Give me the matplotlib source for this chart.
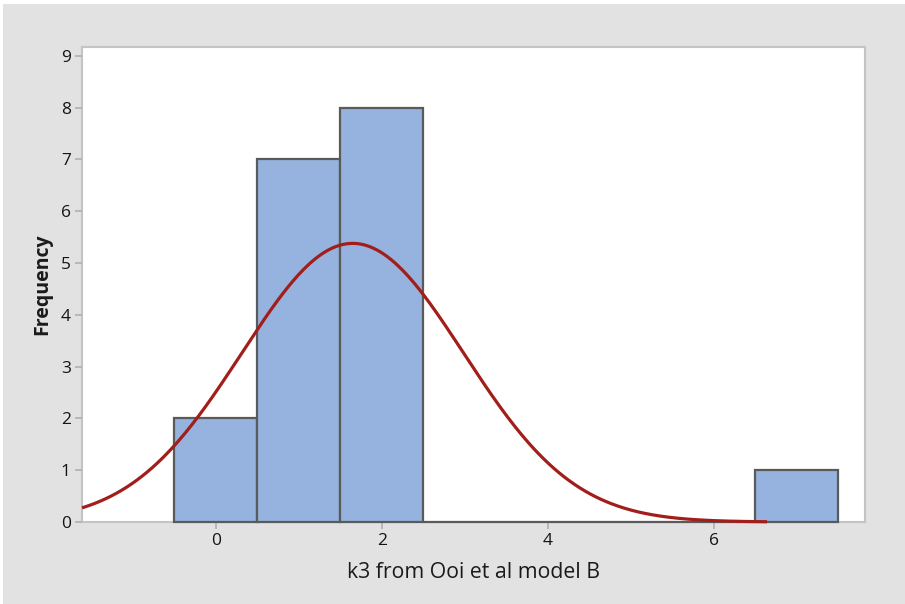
import numpy as np
import matplotlib
matplotlib.use("Agg")
import matplotlib.pyplot as plt
from matplotlib.patches import Rectangle

# histogram data (bin centres, bin width 1)
bin_centers = [0, 1, 2, 3, 4, 5, 6, 7]
counts = [2, 7, 8, 0, 0, 0, 0, 1]
bin_width = 1.0

# normal fit parameters
n_obs = 18
fit_mean = 1.65
fit_sd = 1.335
curve_start = -1.61
curve_end = 6.64

x_ticks = [0, 2, 4, 6]
y_ticks = [0, 1, 2, 3, 4, 5, 6, 7, 8, 9]

plt.rcParams['font.family'] = ['Open Sans', 'DejaVu Sans']

fig = plt.figure(figsize=(9.05, 6.04), dpi=100)
fig.patch.set_facecolor('white')
# gray frame behind the chart
fig.patches.append(Rectangle((3/905, 0), 1, 1 - 4/604, transform=fig.transFigure,
                             facecolor='#e2e2e2', edgecolor='none', zorder=-10))

ax = fig.add_axes([82/905, 1 - 522/604, (865-82)/905, (522-47)/604])
ax.set_facecolor('white')

ax.bar(bin_centers, counts, width=bin_width, color='#95b3de', edgecolor='#5a5a5a',
       linewidth=1.6, zorder=3, clip_on=False)

xs = np.linspace(curve_start, curve_end, 400)
ys = n_obs * bin_width / (fit_sd * np.sqrt(2*np.pi)) * np.exp(-(xs - fit_mean)**2 / (2*fit_sd**2))
ax.plot(xs, ys, color='#a11e1b', linewidth=2.3, zorder=4, solid_capstyle='butt', clip_on=False)

ax.set_xlim(-1.61, 7.82)
ax.set_ylim(0, 9.17)
ax.set_xticks(x_ticks)
ax.set_yticks(y_ticks)

for s in ax.spines.values():
    s.set_color('#c4c4c4')
    s.set_linewidth(1.5)
    s.set_zorder(1)

ax.tick_params(axis='both', colors='#b0b0b0', length=5, width=1.2, labelcolor='#141414',
               labelsize=12.5, pad=3)

ax.set_xlabel('k3 from Ooi et al model B', fontsize=15.3, color='#1a1a1a', labelpad=9)
ax.set_ylabel('Frequency', fontsize=14, color='#1a1a1a', fontweight='bold', labelpad=6)

fig.savefig('out.png', dpi=100, facecolor=fig.get_facecolor())
